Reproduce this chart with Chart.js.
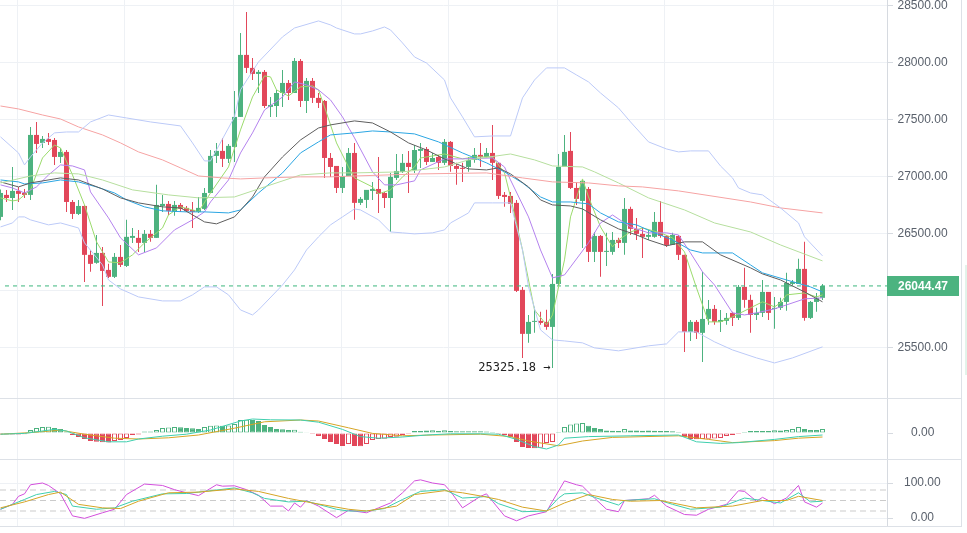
<!DOCTYPE html>
<html>
<head>
<meta charset="utf-8">
<script src="https://cdn.jsdelivr.net/npm/chart.js@4.4.1/dist/chart.umd.min.js"></script>
<style>
  body { margin: 0; background: #fff; width: 967px; height: 533px; overflow: hidden; position: relative; }
  canvas { position: absolute; left: 0; }
  #sliver { position: absolute; left: 965px; top: 265px; width: 2px; height: 110px; background: #e3f3ea; }
</style>
</head>
<body>
<canvas id="main" width="967" height="398" style="top:0px"></canvas>
<canvas id="macd" width="967" height="61" style="top:398px"></canvas>
<canvas id="kdj" width="967" height="68" style="top:459px"></canvas>
<div id="sliver"></div>
<script>
// candles (4h)
const opens = [26650,26843,26816,26878,26860,26843,27369,27299,27334,27325,
  27176,27220,26781,26676,26746,26317,26247,26334,26185,26124,
  26299,26220,26466,26466,26422,26501,26466,26746,26764,26694,
  26755,26729,26711,26694,26720,26860,27185,27229,27159,27264,
  27527,28071,27957,27904,27922,27615,27623,27737,27825,27737,
  28018,27667,27843,27694,27667,27167,27097,26904,27009,27211,
  26773,26799,26878,26895,26860,26816,26992,27045,27124,27062,
  27229,27246,27132,27176,27124,27308,27097,27080,27088,27150,
  27194,27176,27211,27124,26843,26834,26773,26010,25624,25729,
  25738,25729,25685,26062,27088,27229,26904,26790,26895,26343,
  26483,26343,26343,26448,26422,26720,26545,26501,26475,26475,
  26606,26483,26404,26483,26317,25641,25729,25633,25755,25843,
  25729,25738,25808,25764,26036,25922,25790,25808,25992,25843,
  25852,25904,26062,26062,26194,25764,25904,25940];
const highs = [26890,26886,27088,26913,26895,27439,27483,27360,27387,27343,
  27255,27237,26799,26799,26755,26360,26492,26387,26238,26334,
  26404,26624,26553,26536,26536,26536,26931,26843,26790,26790,
  26773,26746,26781,26825,26904,27237,27299,27343,27290,27755,
  28264,28448,28044,27939,27939,27702,27763,27939,27851,28044,
  28036,27869,27869,27737,27676,27211,27097,27088,27255,27299,
  26825,26887,26957,27176,26869,27036,27202,27202,27229,27281,
  27299,27264,27211,27194,27334,27316,27124,27124,27176,27255,
  27299,27255,27457,27132,26869,26869,26799,26036,25790,25861,
  25817,25835,26150,27202,27369,27395,26957,26974,26913,26518,
  26492,26510,26518,26466,26816,26738,26641,26553,26536,26694,
  26790,26492,26510,26492,26317,25746,25746,26168,25922,25878,
  25834,25808,25817,26053,26203,25966,25852,26097,25992,25948,
  25940,26159,26097,26282,26431,25913,25983,26062];
const lows = [26620,26781,26711,26781,26816,26799,27211,27255,27281,27106,
  27123,26694,26632,26667,26080,26168,26238,25869,26115,26115,
  26211,26211,26422,26343,26343,26431,26466,26694,26667,26659,
  26694,26694,26553,26685,26711,26860,27123,27088,27123,27132,
  27527,27913,27851,27737,27606,27527,27527,27615,27676,27737,
  27615,27562,27650,27606,26992,27001,26860,26860,27009,26624,
  26755,26729,26799,26685,26729,26518,26974,27036,26860,27036,
  27080,27106,27132,27062,27106,27045,26931,26957,27045,27124,
  27088,27167,26974,26808,26738,26685,25992,25413,25545,25633,
  25703,25659,25325.18,26045,27088,26895,26755,26378,26255,26255,
  26124,26220,26317,26378,26317,26492,26448,26290,26448,26466,
  26466,26387,26404,26273,25466,25562,25580,25378,25703,25703,
  25641,25703,25694,25746,25852,25633,25746,25773,25746,25668,
  25834,25826,26053,26062,25738,25755,25817,25922];
const closes = [26860,26816,26878,26852,26843,27369,27290,27334,27308,27176,
  27220,26781,26676,26746,26317,26238,26334,26176,26124,26299,
  26229,26475,26483,26422,26501,26466,26755,26764,26703,26755,
  26720,26703,26694,26729,26860,27185,27229,27159,27273,27527,
  28071,27957,27904,27922,27623,27632,27737,27825,27737,28018,
  27667,27843,27694,27650,27167,27088,26904,27009,27211,26773,
  26808,26887,26895,26852,26816,27001,27053,27124,27088,27237,
  27246,27132,27167,27124,27308,27097,27071,27071,27150,27194,
  27176,27211,27124,26834,26825,26764,26001,25624,25729,25738,
  25720,25685,26062,27088,27220,26904,26808,26966,26343,26483,
  26343,26352,26448,26422,26720,26545,26501,26475,26492,26606,
  26483,26404,26492,26317,25641,25729,25633,25755,25843,25729,
  25746,25764,25764,26036,25922,25790,25808,25992,25808,25852,
  25904,26071,26080,26194,25764,25904,25940,26044.47];

// overlay lines: [candle index, value]
const ma5 = [[0,26817],[2,26790],[3,26799],[5,26887],[7,27167],[9,27281],[10,27255],[12,27018],[14,26755],[16,26431],[18,26255],[20,26247],[22,26317],[24,26422],[27,26553],[28,26668],[30,26738],[32,26711],[33,26694],[35,26860],[38,27088],[40,27413],[42,27702],[44,27887],[45,27878],[46,27764],[48,27711],[50,27790],[52,27799],[53,27764],[54,27615],[56,27299],[58,27088],[59,26992],[62,26913],[63,26852],[65,26887],[67,27001],[69,27088],[70,27167],[74,27202],[77,27159],[79,27176],[82,27176],[84,27036],[85,26825],[87,26360],[89,25834],[91,25703],[92,25790],[94,26273],[95,26650],[97,26983],[98,26825],[100,26562],[102,26387],[103,26448],[105,26518],[107,26553],[110,26510],[112,26466],[114,26343],[116,26027],[118,25729],[120,25729],[122,25773],[125,25852],[127,25905],[129,25861],[130,25896],[131,25966],[134,25983],[136,25948],[137,25966]];
const ma10 = [[0,26931],[2,26904],[4,26860],[6,26913],[8,27018],[10,27106],[12,27097],[14,27062],[15,26869],[18,26641],[20,26466],[23,26317],[26,26378],[29,26536],[32,26624],[34,26694],[35,26781],[38,26974],[40,27211],[42,27387],[44,27588],[47,27702],[49,27834],[51,27808],[53,27764],[55,27676],[57,27527],[59,27343],[62,27045],[64,26931],[66,26931],[69,26966],[70,27062],[74,27159],[77,27159],[82,27167],[84,27088],[85,26974],[88,26650],[90,26360],[92,26115],[94,26141],[95,26211],[98,26422],[100,26597],[102,26667],[105,26562],[108,26510],[111,26510],[113,26492],[115,26334],[117,26168],[119,26053],[122,25808],[124,25790],[126,25808],[129,25843],[131,25878],[134,25931],[137,25940]];
const ma20 = [[0,26957],[3,26913],[5,26948],[10,26992],[13,26974],[17,26895],[20,26817],[23,26773],[27,26738],[30,26729],[32,26668],[34,26606],[36,26589],[39,26650],[42,26825],[44,27001],[47,27176],[50,27325],[53,27430],[55,27457],[59,27492],[62,27474],[65,27395],[68,27299],[71,27237],[74,27159],[78,27071],[81,27062],[83,27080],[85,27027],[88,26913],[90,26799],[92,26755],[95,26746],[97,26720],[100,26624],[103,26545],[106,26492],[108,26448],[111,26396],[114,26431],[117,26431],[120,26317],[125,26203],[127,26150],[130,26097],[134,25992],[137,25905]];
const ma30 = [[0,26974],[3,26957],[4,26939],[7,26948],[10,26974],[13,26957],[16,26913],[19,26860],[21,26799],[24,26738],[27,26703],[31,26694],[34,26694],[38,26685],[40,26711],[43,26860],[47,27036],[50,27211],[53,27308],[55,27369],[59,27387],[62,27404],[65,27395],[69,27378],[73,27308],[77,27211],[81,27124],[84,27045],[87,26948],[90,26825],[92,26781],[95,26781],[98,26764],[100,26685],[103,26606],[106,26580],[109,26510],[112,26448],[115,26360],[117,26334],[122,26334],[125,26229],[127,26159],[131,26097],[135,26036],[137,25992]];
const ma60 = [[0,26948],[5,27009],[9,27036],[13,27027],[17,26974],[22,26887],[28,26843],[33,26817],[39,26825],[44,26913],[50,27018],[55,27036],[59,27036],[67,27045],[74,27088],[78,27150],[85,27202],[89,27150],[92,27097],[97,27088],[99,27045],[103,26948],[108,26817],[114,26711],[119,26597],[125,26518],[130,26404],[137,26264]];
const ma120 = [[0,27623],[3,27597],[7,27544],[10,27509],[13,27439],[17,27369],[20,27299],[23,27220],[27,27150],[30,27080],[33,27009],[37,26992],[40,26983],[44,26992],[50,27001],[55,27001],[59,27009],[70,27027],[81,27036],[87,26992],[92,26957],[98,26948],[103,26922],[107,26913],[113,26878],[125,26781],[130,26729],[137,26685]];
const bollUp = [[0,27352],[3,27211],[4,27106],[5,27176],[7,27299],[9,27387],[11,27395],[13,27395],[15,27483],[18,27544],[21,27518],[25,27483],[30,27448],[32,27299],[34,27141],[35,27141],[39,27527],[40,27764],[43,28009],[47,28229],[49,28307],[53,28369],[55,28334],[56,28307],[59,28255],[60,28255],[62,28281],[64,28316],[65,28290],[67,28176],[69,28053],[71,28000],[74,27851],[75,27694],[77,27527],[79,27352],[82,27360],[85,27360],[87,27694],[89,27851],[91,27957],[94,27957],[96,27895],[98,27834],[100,27737],[103,27606],[105,27483],[108,27308],[111,27246],[113,27220],[115,27229],[118,27229],[120,27097],[122,26992],[123,26904],[125,26860],[127,26843],[130,26729],[133,26597],[134,26475],[137,26308]];
const bollLow = [[0,26562],[2,26597],[3,26650],[4,26650],[5,26624],[8,26580],[10,26597],[13,26553],[14,26422],[17,26229],[18,26097],[20,26018],[23,25948],[27,25913],[30,25913],[32,25966],[34,26036],[36,26036],[38,25966],[40,25834],[42,25790],[43,25834],[47,26053],[49,26185],[51,26360],[53,26475],[55,26580],[57,26650],[59,26720],[60,26711],[63,26624],[65,26518],[67,26510],[69,26501],[72,26510],[74,26536],[75,26597],[78,26685],[79,26773],[82,26773],[85,26773],[87,26360],[88,26036],[90,25659],[92,25571],[94,25562],[97,25545],[99,25501],[103,25475],[108,25519],[111,25536],[113,25641],[116,25641],[119,25554],[122,25483],[126,25413],[129,25369],[132,25413],[137,25510]];

// MACD
const macdHist = [-8,-8,-8,-8,-6,15,25,30,31,25,20,6,
  -10,-20,-30,-40,-44,-46,-47,-40,-35,-25,-10,-7,
  8,8,15,25,27,30,29,25,24,20,30,36,37,36,37,45,65,66,65,60,40,30,20,19,15,16,6,4,
  -5,-15,-30,-45,-55,-65,-55,-65,-66,-55,-35,-30,-29,-20,-19,-10,-5,
  10,10,13,14,10,14,10,9,9,9,9,9,8,5,
  -5,-10,-20,-45,-70,-75,-76,-74,-50,-45,
  5,30,42,48,50,36,25,20,12,11,10,20,13,12,11,13,11,10,10,9,5,
  -20,-30,-31,-30,-29,-28,-25,-15,-10,-5,
  5,10,10,10,10,14,12,15,20,30,20,15,15,20];
const dif = [[0,-6],[4,-2],[9,18],[11,10],[14,-24],[18,-44],[21,-44],[23,-30],[27,-16],[31,-6],[35,15],[40,60],[42,70],[45,66],[50,65],[53,54],[57,18],[60,-18],[63,-26],[67,-20],[71,-10],[75,-4],[80,-4],[83,-6],[86,-32],[89,-68],[91,-80],[93,-60],[94,-26],[98,-18],[105,-14],[113,-10],[116,-44],[120,-52],[123,-48],[129,-32],[133,-18],[137,-10]];
const dea = [[0,-6],[5,2],[10,14],[14,-6],[19,-26],[23,-30],[28,-24],[33,-10],[39,24],[44,56],[50,65],[53,60],[58,26],[62,-2],[67,-14],[72,-10],[80,-6],[85,-18],[88,-40],[93,-64],[97,-40],[102,-22],[113,-14],[118,-32],[122,-48],[129,-38],[133,-26],[137,-20]];

// KDJ
const kdjK = [[0,25],[4,53],[6,67],[9,76],[11,67],[12,34],[16,25],[19,29],[22,48],[27,69],[31,70],[34,76],[39,86],[42,72],[44,56],[48,46],[51,48],[56,25],[58,20],[61,20],[64,27],[67,53],[70,76],[74,81],[77,57],[80,60],[81,62],[83,41],[87,18],[91,20],[93,57],[94,69],[97,72],[99,59],[103,37],[104,50],[109,55],[112,39],[115,25],[120,31],[124,57],[127,50],[130,43],[133,72],[135,46],[137,48]];
const kdjD = [[0,29],[4,46],[8,67],[10,74],[13,39],[17,29],[20,27],[23,48],[28,72],[33,74],[39,83],[43,76],[48,56],[52,43],[58,25],[61,20],[66,34],[69,67],[74,78],[77,72],[80,63],[83,53],[87,31],[91,20],[94,43],[98,67],[102,53],[105,48],[110,50],[116,29],[122,34],[127,50],[131,50],[133,62],[137,50]];
const kdjJ = [[0,25],[2,39],[3,62],[4,69],[5,95],[7,100],[8,93],[10,69],[12,6],[14,-1],[17,15],[19,25],[21,67],[24,97],[27,93],[29,81],[31,72],[33,64],[36,95],[37,91],[39,92],[41,81],[43,65],[45,34],[47,34],[48,20],[49,43],[50,31],[51,50],[53,34],[56,1],[58,22],[61,15],[63,29],[65,43],[67,72],[69,106],[70,109],[72,100],[74,95],[75,76],[77,29],[80,62],[81,69],[82,48],[84,6],[86,-8],[88,6],[91,18],[92,48],[94,106],[96,95],[97,91],[99,57],[101,25],[103,18],[104,50],[108,55],[109,65],[111,34],[114,10],[116,8],[118,25],[121,39],[123,78],[124,76],[126,48],[127,59],[129,41],[131,57],[133,93],[134,46],[136,31],[137,43]];
const kdjLevels = [20, 50, 80];

const priceTicks = [25500, 26000, 26500, 27000, 27500, 28000, 28500];
const macdTicks = [0];
const kdjTicks = [0, 100];

// ---------------------------------------------------------------
const GREEN = '#4db27f', RED = '#e2475a';
const GRID = '#eef1f5', AXIS = '#d6dae0';
const FONT = '"Liberation Sans", Arial, sans-serif';
const idx = closes.map((_, i) => i);
const candleColors = closes.map((c, i) => c >= opens[i] ? GREEN : RED);

const X_MIN = -0.5 / 6, X_MAX = X_MIN + 887 / 6;

function pts(arr) { return arr.map(([x, y]) => ({ x, y })); }
function lineDs(data, color, extra) {
  return Object.assign({ type: 'line', data: pts(data), borderColor: color, borderWidth: 1,
    pointRadius: 0, tension: 0, fill: false, order: 2 }, extra || {});
}
function flatLine(v, color, dash, from) {
  return { type: 'line', data: [{ x: from === undefined ? X_MIN : from, y: v }, { x: X_MAX, y: v }], borderColor: color,
    borderWidth: 1, borderDash: dash, pointRadius: 0, fill: false, order: 3 };
}

function xAxis() {
  return {
    type: 'linear', position: 'bottom', min: X_MIN, max: X_MAX, offset: false,
    grid: { color: GRID, drawTicks: false, offset: false },
    border: { display: false },
    ticks: { display: false },
    afterBuildTicks(s) {
      const t = [];
      for (let v = 2.75; v < X_MAX - 2; v += 18) t.push({ value: v });
      s.ticks = t;
    },
    afterFit(s) { s.height = 0; s.paddingLeft = 0; s.paddingRight = 0; }
  };
}
function yAxis(min, max, ticks, pad, gridOn) {
  return {
    type: 'linear', position: 'right', min, max,
    grid: { color: GRID, drawOnChartArea: gridOn, tickLength: 6, tickColor: AXIS },
    border: { display: true, color: AXIS },
    ticks: { font: { size: 12, family: FONT }, color: '#5a616c', padding: pad,
      crossAlign: 'center', callback: v => v.toFixed(2) },
    afterBuildTicks(s) { s.ticks = ticks.map(v => ({ value: v })); },
    afterFit(s) { s.width = 80; s.paddingTop = 0; s.paddingBottom = 0; }
  };
}

const frame = {
  id: 'frame',
  afterDraw(chart, args, opts) {
    const { ctx, height } = chart;
    ctx.save();
    ctx.strokeStyle = '#dde1e7';
    ctx.lineWidth = 1;
    ctx.beginPath();
    if (opts.top) { ctx.moveTo(0, 0.5); ctx.lineTo(962, 0.5); }
    if (opts.bottom) { ctx.moveTo(0, height - 0.5); ctx.lineTo(962, height - 0.5); }
    ctx.moveTo(961.5, 0); ctx.lineTo(961.5, height);
    ctx.stroke();
    ctx.restore();
  }
};

// price badge + lowest low marker
const mainDecor = {
  id: 'mainDecor',
  afterDraw(chart) {
    const { ctx, chartArea: a, scales: { x, y } } = chart;
    const last = closes[closes.length - 1];
    const py = Math.round(y.getPixelForValue(last));
    ctx.save();
    ctx.fillStyle = '#4cb380';
    ctx.fillRect(a.right, py - 10, 72, 20);
    ctx.fillStyle = '#fff';
    ctx.font = 'bold 12px ' + FONT;
    ctx.textBaseline = 'middle';
    ctx.textAlign = 'center';
    ctx.fillText(last.toFixed(2), a.right + 36, py + 1);

    let lo = 0;
    lows.forEach((v, i) => { if (v < lows[lo]) lo = i; });
    ctx.fillStyle = '#222';
    ctx.font = '12px "DejaVu Sans Mono", monospace';
    ctx.textAlign = 'right';
    ctx.fillText(lows[lo].toFixed(2) + ' \u2192', x.getPixelForValue(lo) - 2, y.getPixelForValue(lows[lo]));
    ctx.restore();
  }
};

const common = {
  responsive: false, animation: false, events: [],
  layout: { padding: 0 },
};

new Chart(document.getElementById('main'), {
  type: 'bar',
  data: {
    datasets: [
      { type: 'bar', data: idx.map(i => ({ x: i, y: [lows[i], highs[i]] })), backgroundColor: candleColors,
        barThickness: 1, grouped: false, inflateAmount: 0, order: 10 },
      { type: 'bar', data: idx.map(i => ({ x: i, y: [opens[i], closes[i]] })), backgroundColor: candleColors,
        barThickness: 5, minBarLength: 1, grouped: false, inflateAmount: 0, order: 9 },
      lineDs(bollUp, '#bccaf8'),
      lineDs(bollLow, '#bccaf8'),
      lineDs(ma120, '#f6a3a3'),
      lineDs(ma60, '#b6df9e'),
      lineDs(ma20, '#5e5e5e'),
      lineDs(ma30, '#2ba6e3'),
      lineDs(ma10, '#b482ee'),
      lineDs(ma5, '#9bdb6c'),
      flatLine(closes[closes.length - 1], '#3db67e', [4, 4], 0.75)
    ]
  },
  options: Object.assign({}, common, {
    scales: { x: xAxis(), y: yAxis(25061.4, 28552.6, priceTicks, 4.5, true) },
    plugins: { legend: { display: false }, tooltip: { enabled: false }, frame: {} }
  }),
  plugins: [frame, mainDecor]
});

const histColors = macdHist.map(v => v >= 0 ? GREEN : RED);
const histFills = macdHist.map((v, i) => (i > 0 && v > macdHist[i - 1]) ? '#fff' : histColors[i]);

new Chart(document.getElementById('macd'), {
  type: 'bar',
  data: {
    datasets: [
      { type: 'bar', data: idx.map(i => ({ x: i, y: macdHist[i] })), backgroundColor: histFills,
        borderColor: histColors, borderWidth: 1, borderSkipped: false, barThickness: 5,
        grouped: false, inflateAmount: 0, order: 5 },
      lineDs(dif, '#3fcfae'),
      lineDs(dea, '#d6a526')
    ]
  },
  options: Object.assign({}, common, {
    scales: { x: xAxis(), y: yAxis(-130, 175, macdTicks, 18, false) },
    plugins: { legend: { display: false }, tooltip: { enabled: false }, frame: { top: true } }
  }),
  plugins: [frame]
});

new Chart(document.getElementById('kdj'), {
  type: 'line',
  data: {
    datasets: kdjLevels.map(v => flatLine(v, '#cbcbcb', [6, 4])).concat([
      lineDs(kdjD, '#d6a526'),
      lineDs(kdjK, '#3fcfae'),
      lineDs(kdjJ, '#d34fdc')
    ])
  },
  options: Object.assign({}, common, {
    scales: { x: xAxis(), y: yAxis(-25.7, 168.6, kdjTicks, 11, true) },
    plugins: { legend: { display: false }, tooltip: { enabled: false }, frame: { top: true, bottom: true } }
  }),
  plugins: [frame]
});
</script>
</body>
</html>
